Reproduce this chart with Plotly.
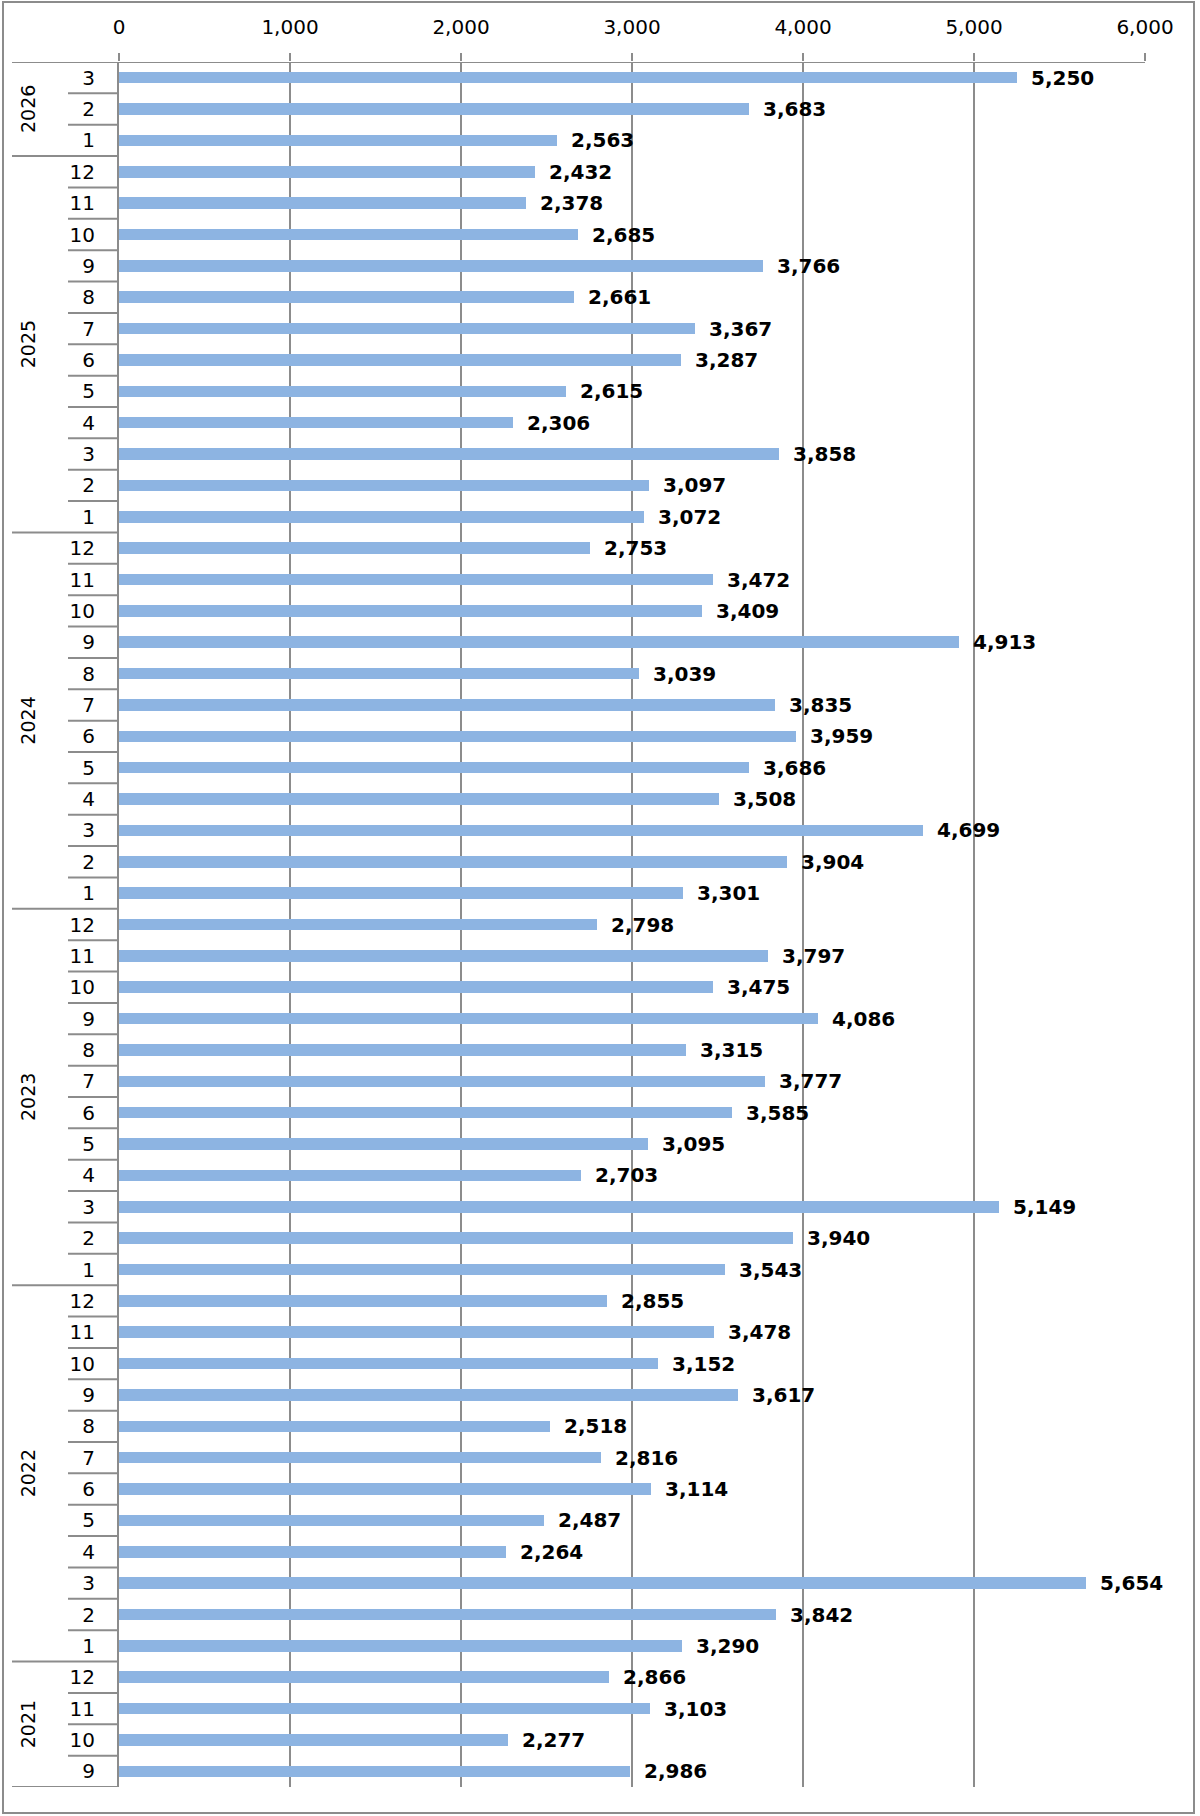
import plotly.graph_objects as go

years = ["2026", "2025", "2024", "2023", "2022", "2021"]
months_by_year = [
    [3, 2, 1],
    [12, 11, 10, 9, 8, 7, 6, 5, 4, 3, 2, 1],
    [12, 11, 10, 9, 8, 7, 6, 5, 4, 3, 2, 1],
    [12, 11, 10, 9, 8, 7, 6, 5, 4, 3, 2, 1],
    [12, 11, 10, 9, 8, 7, 6, 5, 4, 3, 2, 1],
    [12, 11, 10, 9],
]
values_by_year = [
    [5250, 3683, 2563],
    [2432, 2378, 2685, 3766, 2661, 3367, 3287, 2615, 2306, 3858, 3097, 3072],
    [2753, 3472, 3409, 4913, 3039, 3835, 3959, 3686, 3508, 4699, 3904, 3301],
    [2798, 3797, 3475, 4086, 3315, 3777, 3585, 3095, 2703, 5149, 3940, 3543],
    [2855, 3478, 3152, 3617, 2518, 2816, 3114, 2487, 2264, 5654, 3842, 3290],
    [2866, 3103, 2277, 2986],
]
x_tickvals = [0, 1000, 2000, 3000, 4000, 5000, 6000]

W, H = 1200, 1816
L, R, T, B = 119, 1145, 62, 1787
pw, ph = R - L, B - T

def px_x(p):
    return (p - L) / pw

def px_y(p):
    return (B - p) / ph

month_labels = []
values = []
for ms, vs in zip(months_by_year, values_by_year):
    month_labels += [str(m) for m in ms]
    values += vs
idx = list(range(len(values)))
n = len(values)

GRAY = "#8c8c8c"
FONT = "DejaVu Sans"

fig = go.Figure()
fig.add_trace(go.Bar(
    x=values, y=idx, orientation="h",
    width=0.37,
    marker=dict(color="#8DB4E2", line=dict(width=0)),
    hoverinfo="x",
))

annotations = []
for v, i in zip(values, idx):
    annotations.append(dict(
        x=v, y=i, xref="x", yref="y", text=f"{v:,}",
        showarrow=False, xanchor="left", yanchor="middle", xshift=12,
        font=dict(family=FONT, size=20, color="black", weight="bold"),
    ))

shapes = []
# outer border
shapes.append(dict(type="rect", xref="paper", yref="paper",
                   x0=px_x(3), x1=px_x(1194), y0=px_y(1813), y1=px_y(2),
                   line=dict(color=GRAY, width=2), fillcolor="rgba(0,0,0,0)", layer="below"))
# top line
shapes.append(dict(type="line", xref="paper", yref="y",
                   x0=px_x(12), x1=px_x(R), y0=-0.5, y1=-0.5,
                   line=dict(color=GRAY, width=2)))
# separators
pos = 0
for yi, ms in enumerate(months_by_year):
    for k in range(len(ms)):
        pos += 1
        is_year_end = (k == len(ms) - 1)
        x0 = px_x(12) if is_year_end else px_x(68)
        shapes.append(dict(type="line", xref="paper", yref="y",
                           x0=x0, x1=px_x(L), y0=pos - 0.5, y1=pos - 0.5,
                           line=dict(color=GRAY, width=2)))
# year labels
start = 0
for yr, ms in zip(years, months_by_year):
    mid = start + (len(ms) - 1) / 2
    annotations.append(dict(
        x=px_x(28), y=mid, xref="paper", yref="y", text=yr,
        showarrow=False, textangle=-90, xanchor="center", yanchor="middle",
        font=dict(family=FONT, size=19, color="black"),
    ))
    start += len(ms)

fig.update_layout(
    width=W, height=H,
    margin=dict(l=L, r=W - R, t=T, b=H - B, pad=0),
    paper_bgcolor="white", plot_bgcolor="white",
    showlegend=False,
    bargap=0,
    xaxis=dict(
        side="top", range=[0, 6000], tickvals=x_tickvals,
        ticktext=[f"{v:,}" for v in x_tickvals],
        showgrid=True, gridcolor=GRAY, gridwidth=2,
        ticks="outside", ticklen=8, tickcolor=GRAY, tickwidth=2,
        zeroline=False, showline=False,
        tickfont=dict(family=FONT, size=20, color="black"),
        ticklabelstandoff=11,
        fixedrange=True,
    ),
    yaxis=dict(
        range=[n - 0.5, -0.5], tickvals=idx, ticktext=month_labels,
        showgrid=False, zeroline=False,
        showline=True, linecolor=GRAY, linewidth=2,
        ticks="", tickfont=dict(family=FONT, size=20, color="black"),
        ticklabelstandoff=18,
        fixedrange=True,
    ),
    annotations=annotations,
    shapes=shapes,
)

fig.write_html("out.html", config={"displayModeBar": False},
               post_script="document.body.style.margin='0';document.body.style.overflow='hidden';")
